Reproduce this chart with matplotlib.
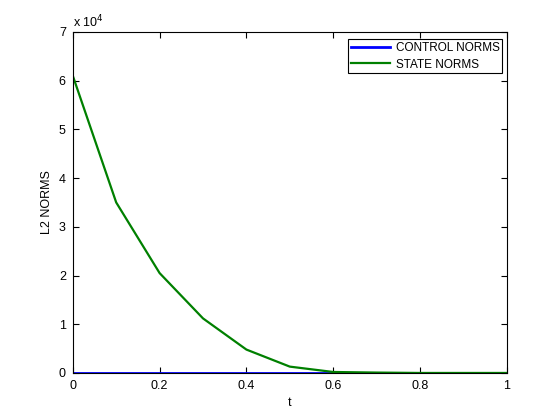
import numpy as np
import matplotlib.pyplot as plt

plt.rcParams['font.family'] = ['Liberation Sans', 'DejaVu Sans']

t = [0.0, 0.1, 0.2, 0.3, 0.4, 0.5, 0.6, 0.7, 0.75, 0.8, 0.9, 1.0]
control_norms = [0, 0, 0, 0, 0, 0, 0, 0, 0, 0, 0, 0]
state_norms = [6.1e4, 3.5e4, 2.05e4, 1.12e4, 0.48e4, 0.13e4, 0.02e4, 0.008e4, 0.004e4, 0, 0, 0]

fig = plt.figure(figsize=(5.6, 4.2), dpi=100)
ax = fig.add_axes([0.130, 0.112, 0.775, 0.812])

ax.plot(t, np.array(control_norms) / 1e4, color='#0000ff', lw=2, label='CONTROL NORMS')
ax.plot(t, np.array(state_norms) / 1e4, color='#008000', lw=1.6, label='STATE NORMS')

ax.set_xlim(0, 1)
ax.set_ylim(0, 7)
ax.set_xticks([0, 0.2, 0.4, 0.6, 0.8, 1])
ax.set_xticklabels(['0', '0.2', '0.4', '0.6', '0.8', '1'])
ax.set_yticks(range(8))
ax.tick_params(direction='in', top=True, right=True, labelsize=9, length=4, width=0.8, pad=5)
for s in ax.spines.values():
    s.set_linewidth(0.8)

ax.set_xlabel('t', fontsize=9)
ax.set_ylabel('L2 NORMS', fontsize=9)
ax.text(0.0, 1.005, r'x 10$^4$', transform=ax.transAxes, fontsize=9, va='bottom')

leg = ax.legend(loc='upper right', fontsize=8.5, fancybox=False, framealpha=1,
                edgecolor='black', bbox_to_anchor=(0.99, 0.978), borderaxespad=0,
                handlelength=3.3, labelspacing=0.35, borderpad=0.25, handletextpad=0.5)
leg.get_frame().set_linewidth(0.8)

fig.savefig('out.png', dpi=100)
